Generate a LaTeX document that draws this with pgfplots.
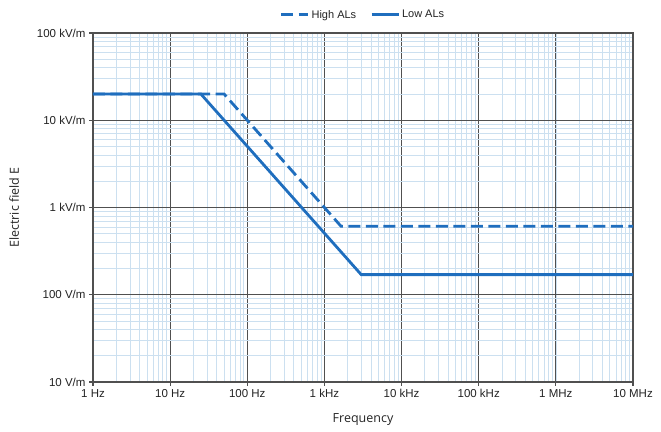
\documentclass[border=0pt]{standalone}
\usepackage{pgfplots}
\pgfplotsset{compat=1.18}
\usepackage{fontspec}
\setmainfont{Liberation Sans}
\newfontfamily\labelfont{Open Sans}

\definecolor{lineblue}{RGB}{31,110,190}
\definecolor{majgrid}{RGB}{80,80,80}
\definecolor{mingrid}{RGB}{204,224,240}
\definecolor{txt}{RGB}{35,35,35}

\begin{document}
\begin{tikzpicture}
\begin{axis}[
    scale only axis,
    width=540pt, height=349pt,
    xmode=log, ymode=log,
    xmin=1, xmax=1e7, ymin=10, ymax=1e5,
    xtick={1,10,100,1e3,1e4,1e5,1e6,1e7},
    xticklabels={1 Hz,10 Hz,100 Hz,1 kHz,10 kHz,100 kHz,1 MHz,10 MHz},
    ytick={10,100,1e3,1e4,1e5},
    yticklabels={10 V/m,100 V/m,1 kV/m,10 kV/m,100 kV/m},
    ticklabel style={font=\fontsize{11.5}{13}\selectfont, text=txt},
    grid=both,
    major grid style={draw=majgrid, line width=1.1pt},
    minor grid style={draw=mingrid, line width=0.6pt},
    axis line style={draw=majgrid, line width=1.1pt},
    tick pos=left,
    tick align=outside,
    major tick length=4pt,
    minor tick length=0pt,
    major tick style={draw=majgrid, line width=1.1pt},
    xlabel={Frequency},
    ylabel={Electric field E},
    xlabel style={font=\labelfont\fontsize{12.5}{14}\selectfont, text=txt,
        at={(axis description cs:0.5,-0.109)}, anchor=center},
    ylabel style={font=\labelfont\fontsize{12.5}{14}\selectfont, text=txt,
        at={(axis description cs:-0.146,0.5)}, anchor=center},
    legend columns=2,
    legend style={draw=none, fill=none,
        at={(axis description cs:0.5,1.052)}, anchor=center,
        font=\fontsize{11}{13}\selectfont, text=txt,
        /tikz/every even column/.append style={column sep=12pt}},
    legend image code/.code={
        \draw[#1] (0pt,0pt) -- (27pt,0pt);
    },
]
% High action levels
\addplot[lineblue, line width=2.8pt, dash pattern=on 12pt off 5.5pt] coordinates {
    (1,20000) (50,20000) (1640,610) (1e7,610)
};
\addlegendentry{High ALs}
% Low action levels
\addplot[lineblue, line width=2.8pt] coordinates {
    (1,20000) (25,20000) (3000,170) (1e7,170)
};
\addlegendentry{Low ALs}
\coordinate (O) at (rel axis cs:0,0);
\end{axis}
\path (O) ++(-93pt,-49pt) rectangle ++(661pt,431pt);
\end{tikzpicture}
\end{document}
